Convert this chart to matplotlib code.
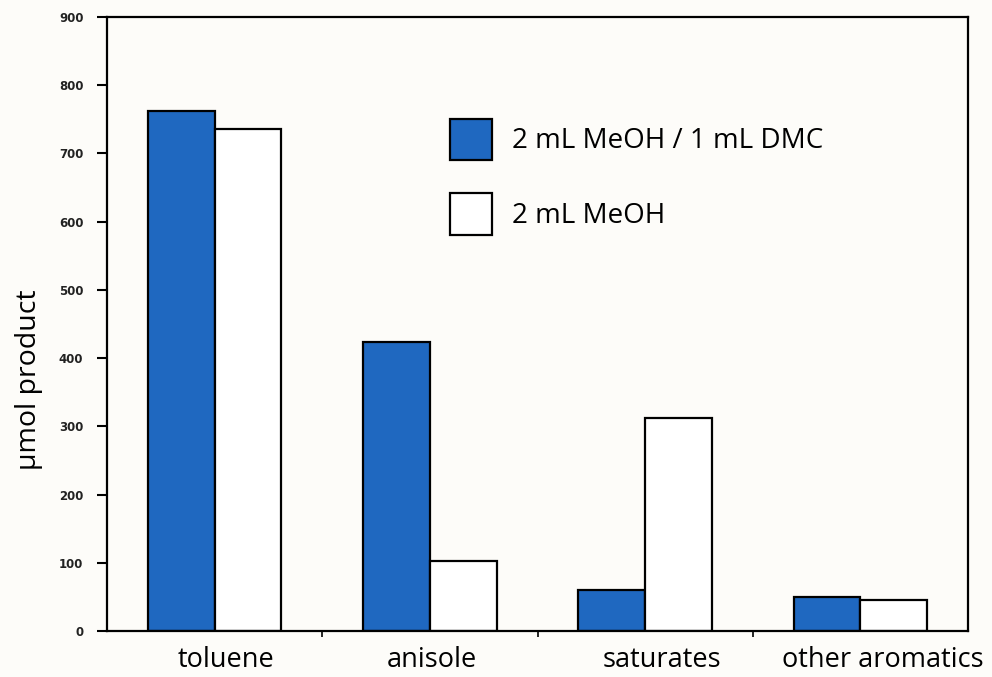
import matplotlib.pyplot as plt
import matplotlib.transforms as mtransforms
import numpy as np

categories = ["toluene", "anisole", "saturates", "other aromatics"]
dmc_values = [762, 424, 60, 50]
meoh_values = [736, 103, 312, 45]
y_ticks = [0, 100, 200, 300, 400, 500, 600, 700, 800, 900]

plt.rcParams['font.family'] = ['Open Sans', 'DejaVu Sans']

fig = plt.figure(figsize=(9.92, 6.77), dpi=100, facecolor='#fdfcf9')
ax = fig.add_axes([107 / 992, 1 - 631 / 677, (968 - 107) / 992, (631 - 17) / 677])
ax.set_facecolor('#fdfcf9')

x = np.arange(len(categories))
w = 0.31
ax.bar(x - w / 2, dmc_values, w, color='#1f68c0', edgecolor='black', linewidth=1.6,
       label='2 mL MeOH / 1 mL DMC')
ax.bar(x + w / 2, meoh_values, w, color='white', edgecolor='black', linewidth=1.6,
       label='2 mL MeOH')

ax.set_xlim(-0.5, 3.5)
ax.set_ylim(0, 900)
ax.set_yticks(y_ticks)
ax.set_yticklabels([str(t) for t in y_ticks], fontsize=8.5, fontweight='bold',
                   family='DejaVu Sans', color='#222222')
ax.set_xticks(x)
ax.set_xticklabels(categories, fontsize=19.5)
ax.set_xticks(x[:-1] + 0.5, minor=True)
ax.tick_params(axis='x', which='major', length=0, pad=11)
ax.tick_params(axis='x', which='minor', length=4, width=1.2)
ax.tick_params(axis='y', length=7, width=1.5, pad=10)
for s in ax.spines.values():
    s.set_linewidth(1.6)

# labels in the original sit a little right of the bar-pair centres
shifts = [11, 2, 17, 22]
for lbl, dx in zip(ax.get_xticklabels(), shifts):
    lbl.set_transform(lbl.get_transform() +
                      mtransforms.ScaledTranslation(dx / 100, 0, fig.dpi_scale_trans))

ax.set_ylabel('µmol product', fontsize=20.5)
ax.yaxis.set_label_coords(-0.074, 0.41)

ax.legend(loc='upper left', bbox_to_anchor=(450 / 992, 1 - 119 / 677),
          bbox_transform=fig.transFigure, frameon=False, fontsize=20,
          handlelength=1.52, handleheight=1.9, handletextpad=0.7,
          labelspacing=1.2, borderpad=0, borderaxespad=0)

fig.savefig('out.png', dpi=100, facecolor=fig.get_facecolor())
